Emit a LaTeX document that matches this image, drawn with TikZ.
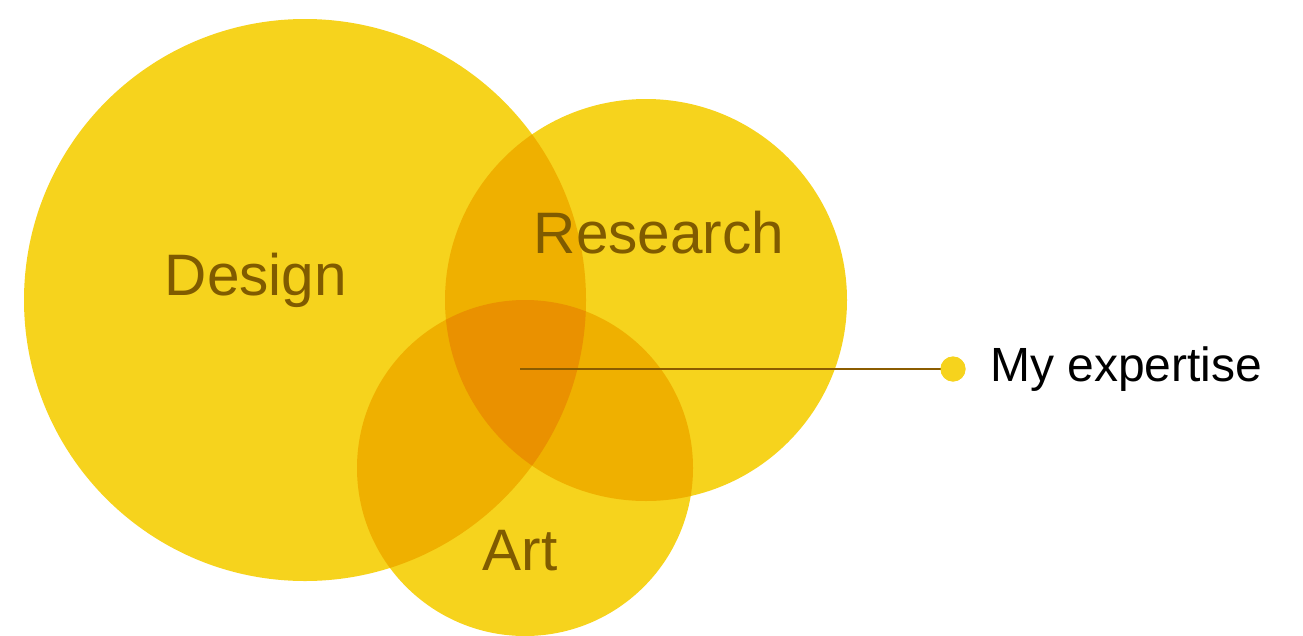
\documentclass[tikz,border=0pt]{standalone}
\usepackage{fontspec}
\setmainfont{Liberation Sans}
\definecolor{basey}{HTML}{F6D31D}
\definecolor{dbly}{HTML}{EFB000}
\definecolor{tripy}{HTML}{EA9100}
\definecolor{labelc}{RGB}{128,91,0}
\definecolor{linec}{RGB}{139,92,0}
\tikzset{
  bigfont/.style={font=\fontsize{58.5}{60}\selectfont, text=labelc, inner sep=0pt, anchor=base},
  sidefont/.style={font=\fontsize{48}{50}\selectfont, text=black, inner sep=0pt, anchor=base west},
  dotnode/.style={circle, fill=basey, minimum size=25pt, inner sep=0pt},
  linkline/.style={draw=linec, line width=2pt}
}
\begin{document}
\begin{tikzpicture}[x=1pt,y=-1pt]
\useasboundingbox (0,0) rectangle (1303,635);
\coordinate (cD) at (305,300);
\coordinate (cR) at (646,300);
\coordinate (cA) at (525,468);
% base circles
\fill[basey] (cD) circle[radius=281pt];
\fill[basey] (cR) circle[radius=201pt];
\fill[basey] (cA) circle[radius=168pt];
% pairwise overlaps
\begin{scope}
  \clip (cD) circle[radius=281pt];
  \fill[dbly] (cR) circle[radius=201pt];
  \fill[dbly] (cA) circle[radius=168pt];
\end{scope}
\begin{scope}
  \clip (cR) circle[radius=201pt];
  \fill[dbly] (cA) circle[radius=168pt];
\end{scope}
% triple overlap
\begin{scope}
  \clip (cD) circle[radius=281pt];
  \clip (cR) circle[radius=201pt];
  \fill[tripy] (cA) circle[radius=168pt];
\end{scope}
% labels
\node[bigfont] (design) at (256,295) {Design};
\node[bigfont] (research) at (659,253) {Research};
\node[bigfont] (art) at (520,570) {Art};
% connector
\coordinate (expert) at (520,369);
\node[dotnode] (dot) at (953,369) {};
\draw[linkline] (expert) -- (dot.center);
\node[dotnode] at (dot.center) {};
\node[sidefont] (mylabel) at (990,381) {My expertise};
\end{tikzpicture}
\end{document}
